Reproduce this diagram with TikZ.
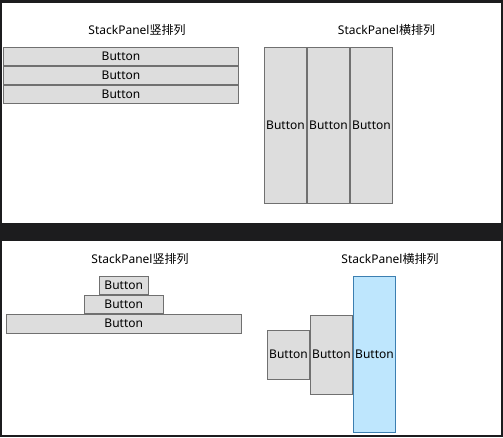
\documentclass[tikz,border=0pt]{standalone}
\usepackage{fontspec}
\setmainfont{Noto Sans}
\newfontfamily\cjk{Noto Sans CJK SC}
\definecolor{frame}{RGB}{28,28,30}
\definecolor{btnfill}{HTML}{DDDDDD}
\definecolor{btnline}{HTML}{707070}
\definecolor{hotfill}{HTML}{BEE6FD}
\definecolor{hotline}{HTML}{3C7FB1}
\tikzset{
  btn/.style={draw=btnline, fill=btnfill, line width=1pt, inner sep=0pt, outer sep=0pt,
    font=\fontsize{12}{14}\selectfont, text=black},
  hotbtn/.style={btn, draw=hotline, fill=hotfill},
  title/.style={inner sep=0pt, font=\fontsize{12}{14}\selectfont, text=black}
}
\begin{document}
\begin{tikzpicture}[x=1pt,y=-1pt]
\useasboundingbox (0,0) rectangle (503,437);
\fill[frame] (0,0) rectangle (503,437);
\fill[white] (2,3) rectangle (501,223);
\fill[white] (2,241) rectangle (501,435);
% top left
\node[title] (t1) at (137,30) {StackPanel{\cjk 竖排列}};
\node[btn, minimum width=235pt, minimum height=18pt] (a1) at (121,56.5) {Button};
\node[btn, minimum width=235pt, minimum height=18pt] (a2) at (121,75.5) {Button};
\node[btn, minimum width=235pt, minimum height=18pt] (a3) at (121,94.5) {Button};
% top right
\node[title] (t2) at (386.5,30) {StackPanel{\cjk 横排列}};
\node[btn, minimum width=42pt, minimum height=155.5pt] (b1) at (285.5,125.25) {Button};
\node[btn, minimum width=42pt, minimum height=155.5pt] (b2) at (328.5,125.25) {Button};
\node[btn, minimum width=42pt, minimum height=155.5pt] (b3) at (371.5,125.25) {Button};
% bottom left
\node[title] (t3) at (140,259) {StackPanel{\cjk 竖排列}};
\node[btn, minimum width=48.5pt, minimum height=18pt] (c1) at (123.75,285.5) {Button};
\node[btn, minimum width=78.5pt, minimum height=18pt] (c2) at (123.75,304.5) {Button};
\node[btn, minimum width=234.5pt, minimum height=18.5pt] (c3) at (123.75,323.75) {Button};
% bottom right
\node[title] (t4) at (390,259) {StackPanel{\cjk 横排列}};
\node[btn, minimum width=42pt, minimum height=48.5pt] (d1) at (288.5,354.75) {Button};
\node[btn, minimum width=42pt, minimum height=78.5pt] (d2) at (331.5,354.75) {Button};
\node[hotbtn, minimum width=42pt, minimum height=155.5pt] (d3) at (374.5,354.25) {Button};
\end{tikzpicture}
\end{document}
